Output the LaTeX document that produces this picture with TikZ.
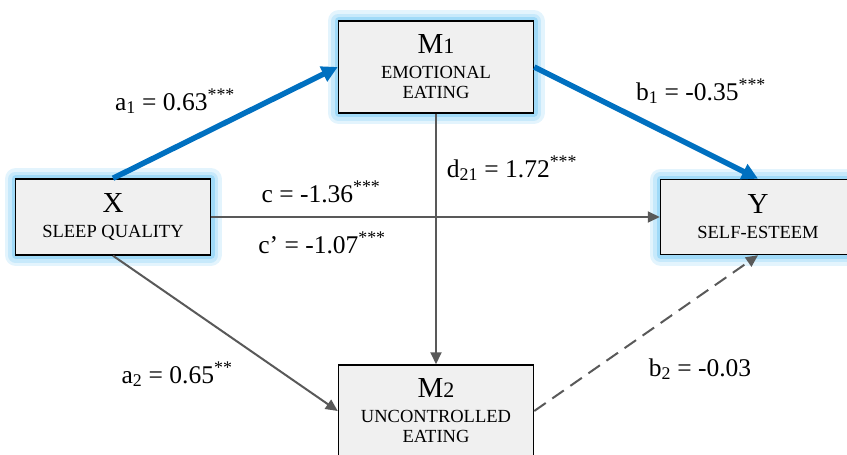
\documentclass[tikz,border=0pt]{standalone}
\usepackage{fontspec}
\setmainfont{Liberation Serif}
\usetikzlibrary{arrows.meta}
\definecolor{arrowblue}{HTML}{0070C0}
\definecolor{arrowgray}{HTML}{595959}
\definecolor{glowblue}{HTML}{8FD3F7}
\definecolor{boxgray}{HTML}{F0F0F0}
\newcommand{\bigname}{\fontsize{29}{30}\selectfont}
\newcommand{\sig}[1]{\textsuperscript{#1}}
\tikzset{
  box/.style={draw=black, line width=1.5pt, fill=boxgray, minimum width=195pt,
    align=center, inner sep=0pt, font=\fontsize{18.5}{20}\selectfont},
  glow/.style={preaction={draw=glowblue!25, line width=22pt, line join=round},
    preaction={draw=glowblue!50, line width=15pt, line join=round},
    preaction={draw=glowblue!85, line width=8pt, line join=round}},
  bluearrow/.style={draw=arrowblue, line width=5.5pt, -{Triangle[length=16pt,width=16pt]}},
  grayarrow/.style={draw=arrowgray, line width=2pt, -{Triangle[length=12pt,width=11pt]}},
  lbl/.style={font=\fontsize{25.5}{28}\selectfont, inner sep=0pt, anchor=base}
}
\begin{document}
\begin{tikzpicture}[x=1pt, y=-1pt]
  \useasboundingbox (0,0) rectangle (847,455);
  % boxes
  \node[box, glow, minimum height=76pt] (X) at (113,217)
    {{\bigname X}\\[5pt]SLEEP QUALITY};
  \node[box, glow, minimum height=92pt] (M1) at (436,67)
    {{\bigname M{\fontsize{22}{22}\selectfont 1}}\\[5pt]EMOTIONAL\\EATING};
  \node[box, glow, minimum height=75pt] (Y) at (758,217)
    {{\bigname Y}\\[5pt]SELF-ESTEEM};
  \node[box, minimum height=92pt] (M2) at (436,411)
    {{\bigname M{\fontsize{22}{22}\selectfont 2}}\\[5pt]UNCONTROLLED\\EATING};
  % paths
  \draw[grayarrow] (X.east) -- (Y.west);
  \draw[grayarrow] (M1.south) -- (M2.north);
  \draw[grayarrow] (X.south) -- (M2.west);
  \draw[grayarrow, dash pattern=on 14pt off 8pt] (M2.east) -- (Y.south);
  \draw[bluearrow] (X.north) -- (M1.west);
  \draw[bluearrow] (M1.east) -- (Y.north);
  % coefficients
  \node[lbl] (la1) at (175,110) {a\textsubscript{1} = 0.63\sig{***}};
  \node[lbl] (lb1) at (701,100) {b\textsubscript{1} = -0.35\sig{***}};
  \node[lbl] (lc) at (321,202) {c = -1.36\sig{***}};
  \node[lbl] (lcp) at (322,253) {c’ = -1.07\sig{***}};
  \node[lbl] (ld21) at (512,177) {d\textsubscript{21} = 1.72\sig{***}};
  \node[lbl] (la2) at (177,383) {a\textsubscript{2} = 0.65\sig{**}};
  \node[lbl] (lb2) at (700,376) {b\textsubscript{2} = -0.03};
\end{tikzpicture}
\end{document}
